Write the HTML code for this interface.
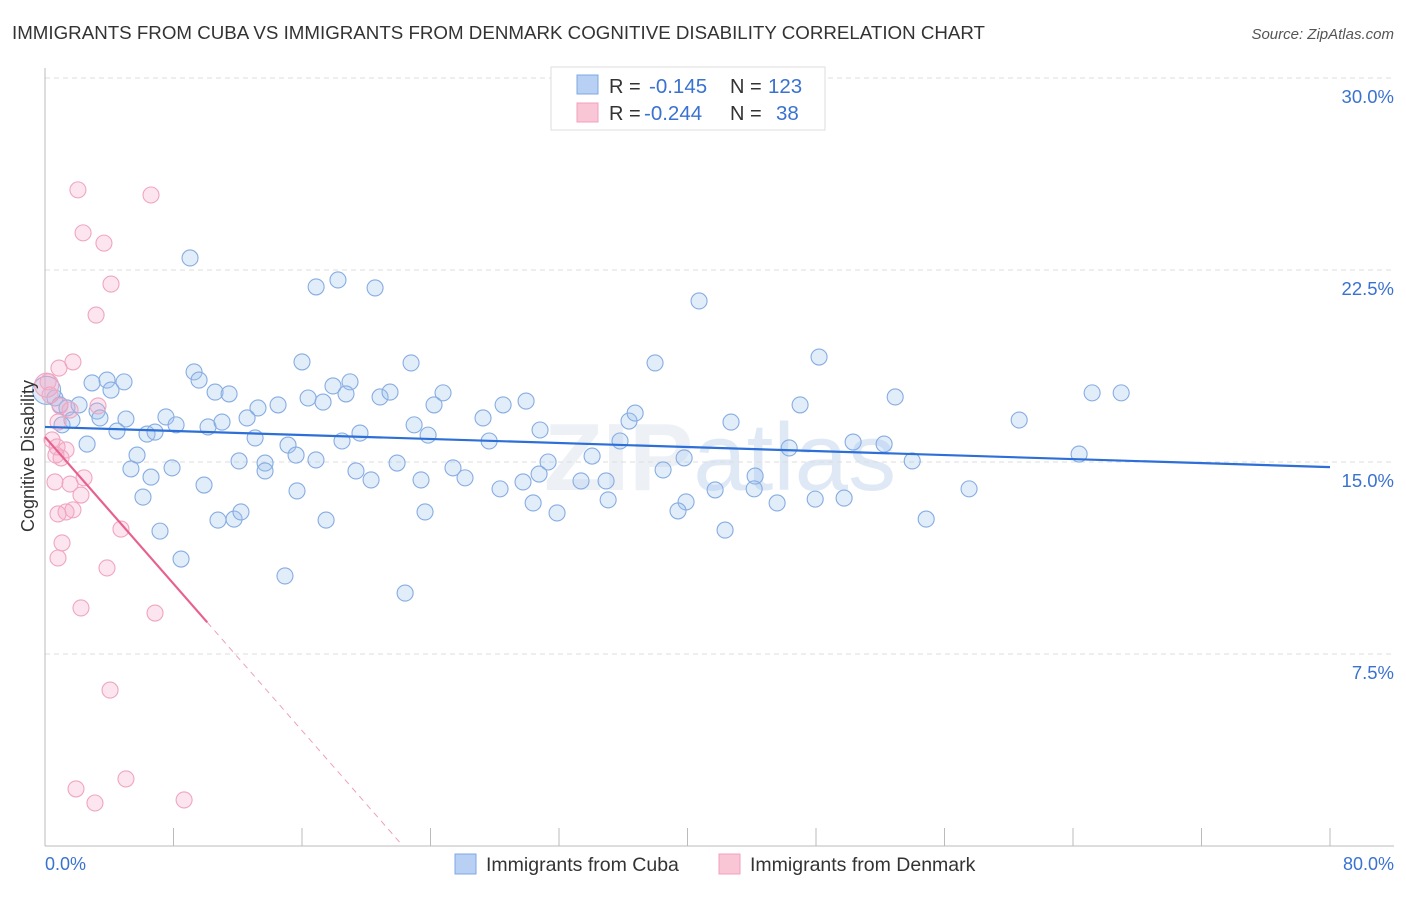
<!DOCTYPE html>
<html><head><meta charset="utf-8">
<style>
body{margin:0;background:#fff;font-family:"Liberation Sans",sans-serif;}
svg text{font-family:"Liberation Sans",sans-serif;}
</style></head>
<body>
<svg id="chart" width="1406" height="892" viewBox="0 0 1406 892" xmlns="http://www.w3.org/2000/svg">
<text x="12" y="39" font-size="18.5" fill="#333" textLength="973" lengthAdjust="spacingAndGlyphs">IMMIGRANTS FROM CUBA VS IMMIGRANTS FROM DENMARK COGNITIVE DISABILITY CORRELATION CHART</text>
<text x="1394" y="39" font-size="15" fill="#555" font-style="italic" text-anchor="end">Source: ZipAtlas.com</text>
<text x="720" y="490" font-size="96" fill="#edf1f6" text-anchor="middle" font-weight="bold">ZIP<tspan font-weight="normal" fill="#dfe9f6">atlas</tspan></text>
<g id="grid"></g>
<g id="axes"></g>
<g id="pts"></g>
<g id="trend"></g>
<text transform="translate(34,456) rotate(-90)" font-size="18" fill="#333" text-anchor="middle">Cognitive Disability</text>
<text x="45" y="870" font-size="18" fill="#3a72d0">0.0%</text>
<text x="1394" y="870" font-size="18" fill="#3a72d0" text-anchor="end">80.0%</text>
<g>
<rect x="551" y="67" width="274" height="63" fill="#fff" stroke="#ddd"/>
<rect x="577" y="75" width="21" height="19" fill="#b7d0f3" stroke="#7fa8e0"/>
<rect x="577" y="103" width="21" height="19" fill="#f9c6d6" stroke="#f0a0bd"/>
<text x="609" y="93" font-size="20" fill="#333">R = </text><text x="649" y="93" font-size="20.5" fill="#3a72d0">-0.145</text>
<text x="730" y="93" font-size="20" fill="#333">N = </text><text x="768" y="93" font-size="20.5" fill="#3a72d0">123</text>
<text x="609" y="120" font-size="20" fill="#333">R = </text><text x="644" y="120" font-size="20.5" fill="#3a72d0">-0.244</text>
<text x="730" y="120" font-size="20" fill="#333">N = </text><text x="776" y="120" font-size="20.5" fill="#3a72d0">38</text>
</g>
<g>
<rect x="455" y="854" width="21" height="20" fill="#b7d0f3" stroke="#7fa8e0"/>
<text x="486" y="871" font-size="19.5" fill="#333">Immigrants from Cuba</text>
<rect x="719" y="854" width="21" height="20" fill="#f9c6d6" stroke="#f0a0bd"/>
<text x="750" y="871" font-size="19.5" fill="#333">Immigrants from Denmark</text>
</g>
</svg>
<script>
const yTicks=[7.5,15,22.5,30];
const yTickLabels=["7.5%","15.0%","22.5%","30.0%"];
const xTicks=[0,8,16,24,32,40,48,56,64,72,80];
const cubaX=[9.03,16.88,18.24,20.55,40.72,16.00,9.28,22.79,37.98,48.19,3.86,4.92,2.93,9.59,18.99,17.93,4.11,10.59,11.46,18.74,20.86,21.48,24.78,16.38,17.31,14.51,13.26,24.22,28.52,29.95,47.01,52.93,65.19,67.00,60.65,0.62,0.93,1.37,2.12,3.24,1.68,3.42,5.04,7.53,8.16,1.06,4.48,6.35,6.85,10.15,11.02,12.58,22.98,27.27,30.82,36.36,36.74,42.71,13.08,15.13,18.49,19.61,23.85,27.65,35.80,34.06,46.33,50.31,52.24,2.62,5.73,15.63,16.87,12.08,13.70,13.70,5.35,7.91,6.60,19.36,20.30,21.92,25.40,26.15,31.32,30.76,29.76,38.48,39.79,53.99,64.38,44.21,9.90,15.69,23.41,28.33,30.39,33.37,34.93,6.10,41.72,44.15,57.53,39.91,35.06,31.88,23.66,10.77,11.77,12.20,17.50,39.41,45.58,47.95,49.75,54.86,7.16,42.34,8.47,14.94,22.42,0.1];
const cubaY=[22.97,21.84,22.11,21.80,21.29,18.91,18.52,18.87,18.87,19.10,18.20,18.13,18.09,18.20,18.13,17.97,17.81,17.73,17.66,17.66,17.54,17.73,17.70,17.50,17.34,17.23,17.11,17.23,17.23,17.38,17.23,17.54,17.70,17.70,16.64,17.50,17.23,17.11,17.23,16.99,16.64,16.72,16.68,16.76,16.45,16.45,16.21,16.09,16.17,16.37,16.56,16.72,16.45,16.72,16.25,16.60,16.91,16.56,15.94,15.66,15.82,16.13,16.05,15.82,15.82,15.23,15.55,15.78,15.70,15.70,15.27,15.27,15.08,15.04,14.96,14.65,14.73,14.77,14.41,14.65,14.30,14.96,14.77,14.38,15.00,14.53,14.22,14.69,15.16,15.04,15.31,14.45,14.10,13.87,14.30,13.95,13.40,14.26,14.26,13.63,13.91,13.95,13.95,13.44,13.52,13.01,13.05,12.73,12.77,13.05,12.73,13.09,13.40,13.55,13.59,12.77,12.30,12.34,11.21,10.55,9.88,17.8];
const denX=[2.05,6.60,2.37,3.67,4.11,3.18,1.74,0.87,0.19,0.31,0.93,1.56,3.30,0.81,0.44,0.75,1.31,1.00,0.68,2.43,1.56,0.62,2.24,1.74,1.31,0.81,4.73,1.06,0.81,3.86,2.24,6.85,4.05,5.04,1.93,3.11,8.66,0.1];
const denY=[25.63,25.43,23.95,23.55,21.95,20.74,18.91,18.67,18.13,17.62,17.19,17.03,17.19,16.56,15.86,15.59,15.47,15.16,15.27,14.38,14.14,14.22,13.71,13.13,13.05,12.97,12.38,11.84,11.25,10.86,9.30,9.10,6.09,2.62,2.23,1.68,1.80,18.0];
const cubaTrend=[16.37,14.80];
const denTrend=[15.98,-0.717];
const NS="http://www.w3.org/2000/svg";
const X=v=>45+v/80*1285;
const Y=v=>846-v*25.6;
function mk(t,a,p){const e=document.createElementNS(NS,t);for(const k in a)e.setAttribute(k,a[k]);p.appendChild(e);return e;}
const grid=document.getElementById('grid'),axes=document.getElementById('axes'),pts=document.getElementById('pts'),tr=document.getElementById('trend');
yTicks.forEach((t,i)=>{
 const l=mk('line',{x1:45,x2:1394,y1:Y(t),y2:Y(t),stroke:'#ddd','stroke-dasharray':'5,4'},grid);
 
 
 const tx=mk('text',{x:1394,y:Y(t)+25,'font-size':18.5,fill:'#3a72d0','text-anchor':'end'},grid);
 tx.textContent=yTickLabels[i];
 
 
});
const ax=mk('line',{x1:45,x2:45,y1:68,y2:846,stroke:'#bbb'},axes);


const bx=mk('line',{x1:45,x2:1394,y1:846,y2:846,stroke:'#bbb'},axes);


xTicks.forEach(t=>{
 const l=mk('line',{x1:X(t),x2:X(t),y1:828,y2:846,stroke:'#bbb'},axes);
 
 
});
cubaX.forEach((v,i)=>{
 const c=mk('circle',{cx:X(v),cy:Y(cubaY[i]),r:i===cubaX.length-1?14:8,fill:'rgba(160,195,240,0.3)',stroke:'#86ace2','stroke-width':1.1},pts);
 
 
});
denX.forEach((v,i)=>{
 const c=mk('circle',{cx:X(v),cy:Y(denY[i]),r:i===denX.length-1?12:8,fill:'rgba(245,170,198,0.3)',stroke:'#f0a5c0','stroke-width':1.1},pts);
 
 
});
const bl=mk('line',{x1:X(0),y1:Y(cubaTrend[0]),x2:X(80),y2:Y(cubaTrend[1]),stroke:'#2d6fd6','stroke-width':2.2},tr);


const xe=10.1,x0=-denTrend[0]/denTrend[1];
const pl=mk('line',{x1:X(0),y1:Y(denTrend[0]),x2:X(xe),y2:Y(denTrend[0]+denTrend[1]*xe),stroke:'#e8608e','stroke-width':2.2},tr);


const pd=mk('line',{x1:X(xe),y1:Y(denTrend[0]+denTrend[1]*xe),x2:X(x0),y2:Y(0),stroke:'#efa0b8','stroke-width':1,'stroke-dasharray':'6,5'},tr);


</script>
</body></html>
